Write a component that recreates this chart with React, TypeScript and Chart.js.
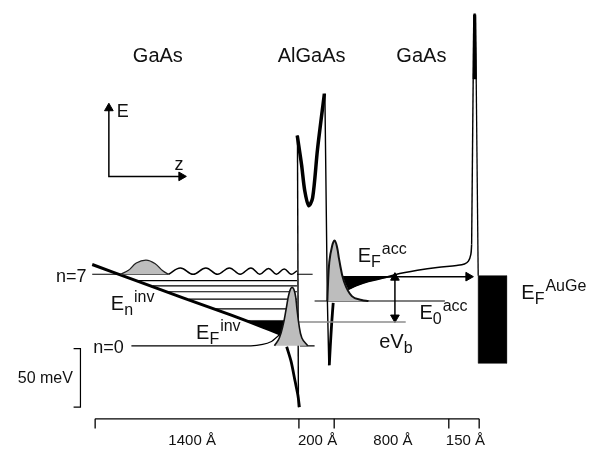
import React, { useEffect, useRef } from "react";
import { Chart, registerables } from "chart.js";

Chart.register(...registerables);

// ---- data (z: position along growth axis, E: energy, drawing units, E axis points down) ----
const bandEdgeInv = [[88, 265.5], [130, 281], [180, 299.5], [230, 317.5], [260, 329], [280, 337]];
const levelE = [282, 287.5, 293.5, 301, 311];
const levelStartZ = [134, 150, 166, 187, 214];
const levelEndZ = 297;
const n7Level = [[88, 275.5], [166, 275.5], [166, null], [297, 275.5], [313, 275.5]];
const n0Level = [[128, 349], [250, 349], [262, 347.6], [271, 344.5], [276, 340.5], [280, 337], [280, null], [300, 349], [315, 349]];
const n7Hump = [[117, 275.5], [125, 271.5], [133, 264], [143, 261], [152, 264.5], [160, 272], [166, 275.5]];
const n7Wiggle = [[166, 275.5], [178, 269], [191, 275.5], [204, 269], [216, 275.5], [228, 269], [239, 275.5], [250, 269], [259, 275.5], [268, 269.5], [276, 275.5], [284, 270], [291, 275.5], [297, 272]];
const psiInv = [[274, 349], [279, 341], [283, 327], [286, 311], [289, 295], [292, 289], [295, 295], [297, 311], [299, 327], [302, 341], [308, 349]];
const psiInvNeg = [[286.5, 350], [291, 365], [295, 385], [298, 400], [299.5, 412]];
const fermiSeaInv = [[247, 323], [284, 323], [281, 336.5], [247, 323]];
const fermiInv = [[298, 324.5], [408, 324.5]];
const barrierLeftWall = [[297.5, 133], [298.5, 412]];
const barrierTop = [[297.3, 133], [301.7, 163], [305, 190], [309, 205], [313, 197], [318, 147], [325, 90]];
const barrierRightWall = [[325.5, 90], [328, 300], [329.5, 369]];
const psiAcc = [[328, 303], [328.5, 290], [330, 263], [333, 246], [335.5, 241], [338, 248], [340, 260], [345, 283], [353, 298], [363, 302], [370, 303]];
const psiAccNeg = [[334, 305], [332.5, 325], [331, 350], [330, 369]];
const e0Acc = [[315, 303], [448, 303]];
const fermiSeaAcc = [[344, 278], [396, 278], [385, 279.5], [370, 283], [358, 287], [350, 291], [347, 286], [344, 278]];
const bandEdgeAcc = [[349, 291], [358, 287], [370, 283], [385, 279.5], [397, 276], [420, 271.5], [440, 268.5], [460, 266.5], [468, 265], [472, 262], [474.5, 255], [475.3, 245]];
const spikeLeft = [[475.3, 245], [477.5, 9]];
const spikeRight = [[479.3, 9], [482, 277]];
const spikeTop = [[476.6, 75], [477.4, 8], [479.4, 8], [480.3, 75], [476.6, 75]];
const fermiAccArrow = [[344, 278], [473, 278]];
const ebArrow = [[397, 277], [397, 322]];
const metal = [[482, 277], [511, 277], [511, 367], [482, 367], [482, 277]];
const axesEz = [[105, 104], [105, 175], [180, 175]];
const arrowHeads = [[105, 105], [179, 175], [472, 278], [397, 279], [397, 320]];
const arrowRot = [0, 90, 90, 0, 180];
const scaleBar = [[69, 352], [76, 352], [76, 412], [69, 412]];
const lengthTicksZ = [91, 299, 335, 452, 483];
const lengthLabels = ["1400 Å", "200 Å", "800 Å", "150 Å"];
const lengthLabelZ = [190, 318, 395, 469];
const layerNames = ["GaAs", "AlGaAs", "GaAs"];
const layerNameZ = [155, 312, 424];

const annotations = [
  { t: "E", x: 113, y: 114, s: 18 },
  { t: "z", x: 172, y: 168, s: 18 },
  { t: "n=7", x: 51, y: 283, s: 18 },
  { t: "n=0", x: 89, y: 356, s: 18 },
  { t: "E", sub: "n", sup: "inv", x: 107, y: 312, s: 20 },
  { t: "E", sub: "F", sup: "inv", x: 194, y: 342, s: 20 },
  { t: "E", sub: "F", sup: "acc", x: 359, y: 263, s: 20 },
  { t: "E", sub: "0", sup: "acc", x: 422, y: 321, s: 20 },
  { t: "eV", sub: "b", x: 381, y: 351, s: 20 },
  { t: "E", sub: "F", sup: "AuGe", x: 526, y: 301, s: 20 },
  { t: "50 meV", x: 12, y: 387, s: 16 },
];

const FONT = "'Liberation Sans', Arial, Helvetica, sans-serif";

const pts = (a: any[]) => a.map(([x, y]: any) => ({ x, y }));

const line = (data: any[], width = 1.3, color = "#000", tension = 0.35, extra: any = {}) => ({
  data: pts(data),
  borderColor: color,
  borderWidth: width,
  pointRadius: 0,
  tension,
  fill: false,
  ...extra,
});

const textPlugin = {
  id: "diagramText",
  beforeDraw(chart: any) {
    const c = chart.ctx;
    c.save();
    c.fillStyle = "#fff";
    c.fillRect(0, 0, chart.width, chart.height);
    c.restore();
  },
  afterDatasetsDraw(chart: any) {
    const c = chart.ctx;
    const sx = chart.scales.x;
    const sy = chart.scales.y;
    c.save();
    c.fillStyle = "#111";
    c.textBaseline = "alphabetic";
    c.textAlign = "center";
    c.font = `20px ${FONT}`;
    layerNames.forEach((n, i) => c.fillText(n, sx.getPixelForValue(layerNameZ[i]), sy.getPixelForValue(58)));
    c.font = `15px ${FONT}`;
    lengthLabels.forEach((n, i) => c.fillText(n, sx.getPixelForValue(lengthLabelZ[i]), sy.getPixelForValue(451)));
    c.textAlign = "left";
    annotations.forEach((a: any) => {
      let x = sx.getPixelForValue(a.x);
      const y = sy.getPixelForValue(a.y);
      c.font = `${a.s}px ${FONT}`;
      c.fillText(a.t, x, y);
      x += c.measureText(a.t).width;
      const ss = Math.round(a.s * 0.8);
      c.font = `${ss}px ${FONT}`;
      if (a.sub) {
        c.fillText(a.sub, x, y + 5);
        x += c.measureText(a.sub).width + 1;
      }
      if (a.sup) {
        c.fillText(a.sup, x, y - 8);
      }
    });
    c.restore();
  },
};

export default function App() {
  const ref = useRef<HTMLCanvasElement | null>(null);
  useEffect(() => {
    if (!ref.current) return;
    const levels: any[] = [];
    levelE.forEach((e, i) => {
      levels.push([levelStartZ[i], e], [levelEndZ, e], [levelEndZ, null]);
    });
    const ticks: any[] = [];
    lengthTicksZ.forEach((z) => ticks.push([z, 424], [z, 434], [z, null]));
    const axisLine = [[91, 424], [483, 424]];
    const gray = "#bdbdbd";
    const datasets: any[] = [
      line(n7Hump, 1.3, "#222", 0.4, { fill: { value: 275.5 }, backgroundColor: gray }),
      line(psiInv, 1.6, "#111", 0.4, { fill: { value: 349 }, backgroundColor: gray }),
      line(psiAcc, 2, "#111", 0.4, { fill: { value: 303 }, backgroundColor: gray }),
      line(fermiSeaInv, 0.5, "#000", 0, { fill: "shape", backgroundColor: "#000" }),
      line(fermiSeaAcc, 0.5, "#000", 0.2, { fill: "shape", backgroundColor: "#000" }),
      line(metal, 0.5, "#000", 0, { fill: "shape", backgroundColor: "#000" }),
      line(spikeTop, 0.5, "#000", 0, { fill: "shape", backgroundColor: "#000" }),
      line(levels, 1.2, "#000", 0),
      line(n7Level, 1.2, "#000", 0),
      line(n0Level, 1.2, "#000", 0.35),
      line(n7Wiggle, 1.5, "#000", 0.4),
      line(fermiInv, 1.6, "#8c8c8c", 0),
      line(bandEdgeInv, 3, "#000", 0.3),
      line(psiInvNeg, 2.8, "#000", 0.3),
      line(barrierLeftWall, 1.4, "#000", 0),
      line(barrierTop, 3.5, "#000", 0.3),
      line(barrierRightWall, 1.4, "#000", 0),
      line(psiAccNeg, 2.8, "#000", 0.3),
      line(e0Acc, 1.2, "#000", 0),
      line(bandEdgeAcc, 1.5, "#000", 0.35),
      line(spikeLeft, 1.4, "#000", 0),
      line(spikeRight, 1.3, "#000", 0),
      line(fermiAccArrow, 1.5, "#000", 0),
      line(ebArrow, 1.5, "#000", 0),
      line(axesEz, 1.5, "#000", 0),
      line(scaleBar, 1.2, "#000", 0),
      line(axisLine, 1.3, "#000", 0),
      line(ticks, 1.3, "#000", 0),
      {
        data: pts(arrowHeads),
        showLine: false,
        pointStyle: "triangle",
        pointRadius: 5,
        pointRotation: arrowRot,
        pointBackgroundColor: "#000",
        pointBorderColor: "#000",
        pointBorderWidth: 1,
      },
    ];
    const chart = new Chart(ref.current, {
      type: "line",
      data: { datasets },
      options: {
        animation: false,
        responsive: false,
        events: [],
        layout: { padding: 0 },
        plugins: { legend: { display: false }, tooltip: { enabled: false }, title: { display: false } },
        scales: {
          x: { type: "linear", min: 0, max: 590, display: false },
          y: { type: "linear", min: 0, max: 455, reverse: true, display: false },
        },
      },
      plugins: [textPlugin],
    } as any);
    return () => chart.destroy();
  }, []);
  return (
    <div style={{ position: "fixed", left: 0, top: 0, width: 590, height: 455, background: "#fff" }}>
      <canvas ref={ref} width={590} height={455} style={{ width: 590, height: 455, display: "block" }} />
    </div>
  );
}
